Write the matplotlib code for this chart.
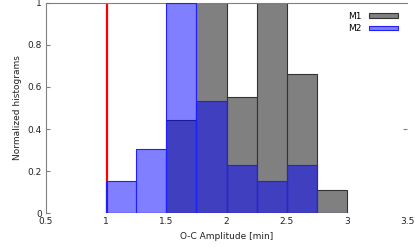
#!/usr/bin/env python3

import numpy as np
import matplotlib.pyplot as plt
from matplotlib.ticker import FuncFormatter

#- bin left edges and normalized counts, bin width 0.25 min
edges = [1.0, 1.25, 1.5, 1.75, 2.0, 2.25, 2.5, 2.75]
m1 = [0.0, 0.0, 0.443, 1.0, 0.551, 1.0, 0.662, 0.108]
m2 = [0.154, 0.305, 1.0, 0.535, 0.229, 0.152, 0.229, 0.0]
width = 0.25
ref_line = 1.01

fig = plt.figure(figsize=(4.15, 2.47), dpi=100)
ax = fig.add_axes([46/415, 1-213/247, 361/415, 210/247])

ax.bar(edges, m1, width=width, align='edge', color='#808080',
       edgecolor='#333333', linewidth=0.8, label='M1', zorder=1)
ax.axvline(ref_line, color='red', linewidth=1.6, zorder=2)
ax.bar(edges, m2, width=width, align='edge', color=(0, 0, 1, 0.5),
       edgecolor='#2020ff', linewidth=0.8, label='M2', zorder=3)

ax.set_xlim(0.5, 3.5)
ax.set_ylim(0, 1)
ax.set_xticks(np.arange(0.5, 3.51, 0.5))
ax.set_yticks(np.arange(0, 1.01, 0.2))
fmt = FuncFormatter(lambda v, p: "%g" % round(v, 2))
ax.xaxis.set_major_formatter(fmt)
ax.yaxis.set_major_formatter(fmt)
ax.tick_params(axis='x', length=0, labelsize=6.5, colors='#222222', pad=3)
ax.tick_params(axis='y', direction='in', length=3, labelsize=6.5,
               colors='#222222', pad=3)
ax.tick_params(axis='y', color='#808080')

for s in ['bottom', 'right']:
    ax.spines[s].set_visible(False)
for s in ['left', 'top']:
    ax.spines[s].set_color('#808080')
    ax.spines[s].set_linewidth(0.8)

ax2 = ax.twinx()
ax2.set_ylim(0, 1)
ax2.set_yticks([0.4])
ax2.set_yticklabels([])
ax2.tick_params(direction='in', length=3, color='#808080')
for s in ax2.spines.values():
    s.set_visible(False)

ax.set_xlabel("O-C Amplitude [min]", fontsize=6.5, color='#222222')
ax.set_ylabel("Normalized histograms", fontsize=6.5, color='#222222')

ax.legend(loc='upper right', frameon=False, fontsize=6.5, markerfirst=False,
          handlelength=3.2, handleheight=0.45, labelspacing=0.35,
          handletextpad=0.8, borderaxespad=0.6)

plt.savefig("out.png", dpi=100)
